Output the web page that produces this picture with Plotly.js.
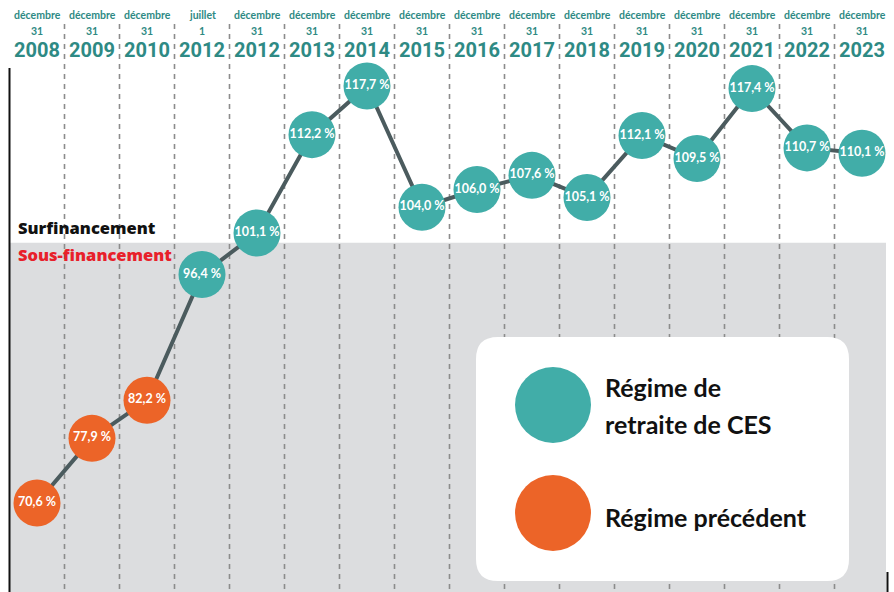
<!DOCTYPE html>
<html>
<head>
<meta charset="utf-8">
<script src="https://cdn.plot.ly/plotly-3.0.1.min.js"></script>
<style>html,body{margin:0;padding:0;background:#fff;}#chart{width:894px;height:592px;}</style>
</head>
<body>
<div id="chart"></div>
<script>
// ---- data ----
const months = ['décembre','décembre','décembre','juillet','décembre','décembre','décembre','décembre','décembre','décembre','décembre','décembre','décembre','décembre','décembre','décembre'];
const days = ['31','31','31','1','31','31','31','31','31','31','31','31','31','31','31','31'];
const years = ['2008','2009','2010','2012','2012','2013','2014','2015','2016','2017','2018','2019','2020','2021','2022','2023'];
const ratios = [70.6,77.9,82.2,96.4,101.1,112.2,117.7,104.0,106.0,107.6,105.1,112.1,109.5,117.4,110.7,110.1];
const regimes = ['Régime précédent','Régime précédent','Régime précédent','Régime de retraite de CES','Régime de retraite de CES','Régime de retraite de CES','Régime de retraite de CES','Régime de retraite de CES','Régime de retraite de CES','Régime de retraite de CES','Régime de retraite de CES','Régime de retraite de CES','Régime de retraite de CES','Régime de retraite de CES','Régime de retraite de CES','Régime de retraite de CES'];
const legendLabels = ['Régime de', 'retraite de CES', 'Régime précédent'];
const surLabel = 'Surfinancement';
const sousLabel = 'Sous-financement';

// ---- styles ----
const W = 894, H = 592;
const TEAL = '#41ada8', ORANGE = '#ec6428', HEAD = '#2e8a84', GRAY = '#dcdddf', LINE = '#4b5b5e';
const colorOf = {'Régime précédent': ORANGE, 'Régime de retraite de CES': TEAL};
const px = x => x / W;
const py = y => 1 - y / H;
const idx = ratios.map((_, i) => i);
const fmt = v => v.toFixed(1).replace('.', ',') + ' %';

const traces = [
  {x: idx, y: ratios, mode: 'lines', line: {color: LINE, width: 4}, hoverinfo: 'skip', showlegend: false},
  {x: idx, y: ratios, mode: 'markers+text', text: ratios.map(fmt), textposition: 'middle center',
   textfont: {family: 'Lato, sans-serif', size: 12.5, color: '#ffffff', weight: 'bold'},
   marker: {size: 47, color: regimes.map(r => colorOf[r]), line: {width: 0}}, showlegend: false,
   hovertemplate: '%{text}<extra></extra>'}
];

const shapes = [];
shapes.push({type: 'rect', xref: 'paper', yref: 'y', x0: px(9), x1: px(886), y0: 0, y1: 100,
  fillcolor: GRAY, line: {width: 0}, layer: 'below'});
for (let i = 0; i < years.length - 1; i++) {
  shapes.push({type: 'line', xref: 'x', yref: 'paper', x0: i + 0.5, x1: i + 0.5, y0: py(24), y1: 0,
    line: {color: '#8c8c8c', width: 1.6, dash: '5px,5px'}, layer: 'below'});
}
shapes.push({type: 'line', xref: 'paper', yref: 'paper', x0: px(9.5), x1: px(9.5), y0: py(68), y1: 0,
  line: {color: '#111', width: 2}, layer: 'below'});
shapes.push({type: 'line', xref: 'paper', yref: 'paper', x0: px(887.5), x1: px(887.5), y0: py(572), y1: 0,
  line: {color: '#111', width: 2}, layer: 'below'});
(function () {
  const x0 = 476, x1 = 849, y0 = 337, y1 = 581, r = 22;
  const P = (x, y) => px(x) + ',' + py(y);
  const path = 'M' + P(x0 + r, y0) + ' L' + P(x1 - r, y0) + ' Q' + P(x1, y0) + ' ' + P(x1, y0 + r) +
    ' L' + P(x1, y1 - r) + ' Q' + P(x1, y1) + ' ' + P(x1 - r, y1) +
    ' L' + P(x0 + r, y1) + ' Q' + P(x0, y1) + ' ' + P(x0, y1 - r) +
    ' L' + P(x0, y0 + r) + ' Q' + P(x0, y0) + ' ' + P(x0 + r, y0) + ' Z';
  shapes.push({type: 'path', xref: 'paper', yref: 'paper', path: path, fillcolor: '#ffffff', line: {width: 0}, layer: 'below'});
})();
[[405, TEAL], [513, ORANGE]].forEach(([cy, c]) => {
  const r = 38, cx = 553;
  shapes.push({type: 'circle', xref: 'paper', yref: 'paper', x0: px(cx - r), x1: px(cx + r), y0: py(cy + r), y1: py(cy - r),
    fillcolor: c, line: {width: 0}, layer: 'above'});
});

const annotations = [];
const headFont = 'Lato, sans-serif';
for (let i = 0; i < years.length; i++) {
  annotations.push({x: i, xref: 'x', y: py(15), yref: 'paper', text: months[i], showarrow: false,
    xanchor: 'center', yanchor: 'middle', font: {family: headFont, size: 10.5, color: HEAD, weight: 'bold'}});
  annotations.push({x: i, xref: 'x', y: py(31), yref: 'paper', text: days[i], showarrow: false,
    xanchor: 'center', yanchor: 'middle', font: {family: headFont, size: 10.5, color: HEAD, weight: 'bold'}});
  annotations.push({x: i, xref: 'x', y: py(50), yref: 'paper', text: years[i], showarrow: false,
    xanchor: 'center', yanchor: 'middle', font: {family: 'Roboto, sans-serif', size: 20, color: HEAD, weight: 'bold'}});
}
annotations.push({x: px(16), xref: 'paper', y: py(228), yref: 'paper', text: surLabel, showarrow: false,
  xanchor: 'left', yanchor: 'middle', font: {family: "'Open Sans', sans-serif", size: 16.5, color: '#111', weight: 800}});
annotations.push({x: px(16), xref: 'paper', y: py(255), yref: 'paper', text: sousLabel, showarrow: false,
  xanchor: 'left', yanchor: 'middle', font: {family: "'Open Sans', sans-serif", size: 16.5, color: '#e8202a', weight: 800}});
const legFont = {family: 'Lato, sans-serif', size: 25, color: '#111', weight: 'bold'};
annotations.push({x: px(603), xref: 'paper', y: py(387), yref: 'paper', text: legendLabels[0], showarrow: false, xanchor: 'left', yanchor: 'middle', font: legFont});
annotations.push({x: px(603), xref: 'paper', y: py(424), yref: 'paper', text: legendLabels[1], showarrow: false, xanchor: 'left', yanchor: 'middle', font: legFont});
annotations.push({x: px(603), xref: 'paper', y: py(517), yref: 'paper', text: legendLabels[2], showarrow: false, xanchor: 'left', yanchor: 'middle', font: legFont});

const x0 = -37 / 55, x1 = x0 + W / 55;
const y0 = 70.6 - (H - 503) / 8.855, y1 = 70.6 + 503 / 8.855;

const layout = {
  width: W, height: H, margin: {l: 0, r: 0, t: 0, b: 0},
  paper_bgcolor: '#ffffff', plot_bgcolor: 'rgba(0,0,0,0)',
  xaxis: {range: [x0, x1], visible: false, fixedrange: true},
  yaxis: {range: [y0, y1], visible: false, fixedrange: true},
  shapes: shapes, annotations: annotations, showlegend: false
};
Plotly.newPlot('chart', traces, layout, {displayModeBar: false, staticPlot: true});
</script>
</body>
</html>
